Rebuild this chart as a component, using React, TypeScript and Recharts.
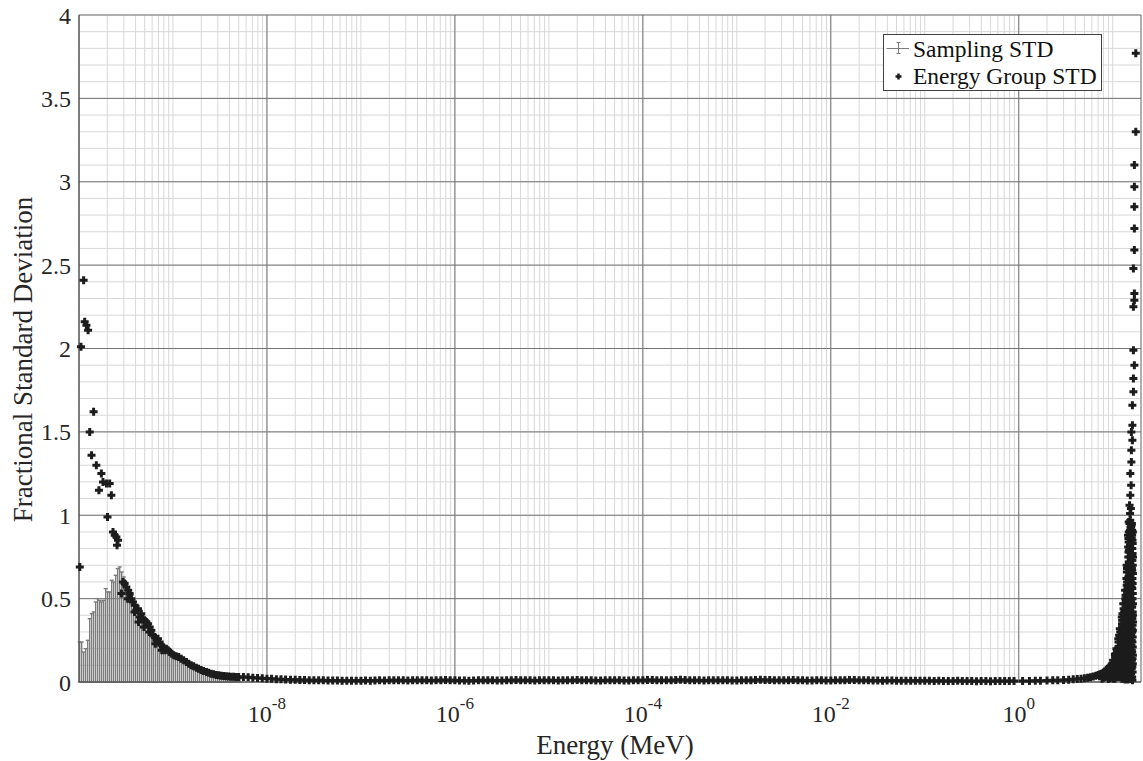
import { ScatterChart, Scatter, XAxis, YAxis, CartesianGrid, ErrorBar, Legend } from 'recharts';

const FONT = '"Liberation Serif", "Times New Roman", Times, serif';
const INK = '#262626';

// sampling std (error bars from zero) over the thermal groups, energies in MeV
const samplingEnergy = [
  1.017e-10, 1.068e-10, 1.122e-10, 1.178e-10, 1.238e-10, 1.3e-10, 1.365e-10, 1.433e-10, 1.505e-10, 1.581e-10,
  1.661e-10, 1.744e-10, 1.832e-10, 1.923e-10, 2.02e-10, 2.122e-10, 2.228e-10, 2.34e-10, 2.458e-10, 2.581e-10,
  2.71e-10, 2.847e-10, 2.989e-10, 3.139e-10, 3.297e-10, 3.462e-10, 3.636e-10, 3.819e-10, 4.01e-10, 4.212e-10,
  4.423e-10, 4.645e-10, 4.879e-10, 5.124e-10, 5.382e-10, 5.651e-10, 5.935e-10, 6.233e-10, 6.546e-10, 6.875e-10,
  7.22e-10, 7.582e-10, 7.963e-10, 8.362e-10, 8.783e-10, 9.224e-10, 9.687e-10, 1.017e-9, 1.068e-9, 1.122e-9,
  1.178e-9, 1.238e-9, 1.3e-9, 1.365e-9, 1.433e-9, 1.505e-9, 1.581e-9, 1.661e-9, 1.744e-9, 1.832e-9,
  1.923e-9, 2.02e-9, 2.122e-9, 2.228e-9, 2.34e-9, 2.458e-9, 2.581e-9, 2.71e-9, 2.847e-9, 2.989e-9,
  3.139e-9, 3.297e-9, 3.462e-9, 3.636e-9, 3.819e-9, 4.01e-9, 4.212e-9, 4.423e-9, 4.645e-9, 4.879e-9,
  5.124e-9,
];
const samplingStd = [
  0.24, 0.24, 0.18, 0.2, 0.25, 0.38, 0.41, 0.42, 0.48, 0.5,
  0.49, 0.48, 0.49, 0.56, 0.54, 0.54, 0.61, 0.6, 0.64, 0.68,
  0.69, 0.66, 0.63, 0.6, 0.57, 0.55, 0.52, 0.49, 0.46, 0.44,
  0.41, 0.39, 0.37, 0.36, 0.34, 0.32, 0.3, 0.28, 0.26, 0.25,
  0.24, 0.22, 0.21, 0.2, 0.19, 0.18, 0.17, 0.16, 0.15, 0.145,
  0.14, 0.13, 0.125, 0.12, 0.11, 0.105, 0.1, 0.095, 0.09, 0.085,
  0.08, 0.075, 0.07, 0.066, 0.062, 0.058, 0.054, 0.05, 0.047, 0.044,
  0.041, 0.038, 0.036, 0.034, 0.032, 0.03, 0.028, 0.026, 0.024, 0.022,
  0.02,
];

// energy-group std, thermal range
const thermalEnergy = [
  1.02e-10, 1.05e-10, 1.12e-10, 1.15e-10, 1.2e-10, 1.25e-10, 1.3e-10, 1.36e-10, 1.43e-10, 1.53e-10,
  1.63e-10, 1.73e-10, 1.8e-10, 1.96e-10, 2.01e-10, 2.12e-10, 2.21e-10, 2.3e-10, 2.4e-10, 2.5e-10,
  2.54e-10, 2.6e-10, 2.83e-10, 2.94e-10, 3.06e-10, 3.19e-10, 3.3e-10, 3.34e-10, 3.46e-10, 3.61e-10,
  3.75e-10, 3.9e-10, 3.91e-10, 4.07e-10, 4.24e-10, 4.3e-10, 4.42e-10, 4.6e-10, 4.79e-10, 4.9e-10,
  5.0e-10, 5.21e-10, 5.42e-10, 5.6e-10, 5.65e-10, 5.89e-10, 6.13e-10, 6.39e-10, 6.5e-10, 6.66e-10,
  6.93e-10, 7.22e-10, 7.52e-10, 7.6e-10, 7.83e-10, 8.16e-10, 8.5e-10, 8.85e-10, 9.22e-10, 9.69e-10,
  1.02e-9, 1.08e-9, 1.15e-9, 1.22e-9, 1.3e-9, 1.39e-9, 1.47e-9, 1.56e-9, 1.66e-9, 1.77e-9,
  1.87e-9, 1.99e-9, 2.11e-9, 2.27e-9, 2.4e-9, 2.55e-9, 2.71e-9, 2.89e-9, 3.07e-9, 3.26e-9,
  3.46e-9, 3.69e-9, 3.92e-9, 4.16e-9, 4.42e-9, 4.72e-9, 5.0e-9,
];
const thermalStd = [
  0.69, 2.01, 2.41, 2.16, 2.14, 2.11, 1.5, 1.36, 1.62, 1.3,
  1.15, 1.25, 1.2, 1.19, 0.99, 1.19, 1.12, 0.9, 0.88, 0.87,
  0.82, 0.85, 0.53, 0.6, 0.59, 0.57, 0.5, 0.55, 0.53, 0.5,
  0.48, 0.42, 0.46, 0.43, 0.44, 0.36, 0.39, 0.41, 0.38, 0.33,
  0.37, 0.36, 0.35, 0.3, 0.33, 0.31, 0.28, 0.27, 0.23, 0.25,
  0.26, 0.24, 0.22, 0.19, 0.21, 0.19, 0.2, 0.19, 0.18, 0.17,
  0.16, 0.155, 0.15, 0.14, 0.13, 0.12, 0.11, 0.1, 0.095, 0.085,
  0.08, 0.072, 0.066, 0.06, 0.055, 0.05, 0.046, 0.042, 0.04, 0.038,
  0.036, 0.034, 0.033, 0.032, 0.031, 0.03, 0.03,
];

// energy-group std, epithermal / intermediate range
const midEnergy = [
  5.62e-9, 6.31e-9, 7.08e-9, 7.94e-9, 8.91e-9,
  1e-8, 1.12e-8, 1.26e-8, 1.41e-8, 1.58e-8, 1.78e-8, 2e-8, 2.24e-8, 2.51e-8, 2.82e-8,
  3.16e-8, 3.55e-8, 3.98e-8, 4.47e-8, 5.01e-8, 5.62e-8, 6.31e-8, 7.08e-8, 7.94e-8, 8.91e-8,
  1e-7, 1.12e-7, 1.26e-7, 1.41e-7, 1.58e-7, 1.78e-7, 2e-7, 2.24e-7, 2.51e-7, 2.82e-7,
  3.16e-7, 3.55e-7, 3.98e-7, 4.47e-7, 5.01e-7, 5.62e-7, 6.31e-7, 7.08e-7, 7.94e-7, 8.91e-7,
  1e-6, 1.12e-6, 1.26e-6, 1.41e-6, 1.58e-6, 1.78e-6, 2e-6, 2.24e-6, 2.51e-6, 2.82e-6,
  3.16e-6, 3.55e-6, 3.98e-6, 4.47e-6, 5.01e-6, 5.62e-6, 6.31e-6, 7.08e-6, 7.94e-6, 8.91e-6,
  1e-5, 1.12e-5, 1.26e-5, 1.41e-5, 1.58e-5, 1.78e-5, 2e-5, 2.24e-5, 2.51e-5, 2.82e-5,
  3.16e-5, 3.55e-5, 3.98e-5, 4.47e-5, 5.01e-5, 5.62e-5, 6.31e-5, 7.08e-5, 7.94e-5, 8.91e-5,
  1e-4, 1.12e-4, 1.26e-4, 1.41e-4, 1.58e-4, 1.78e-4, 2e-4, 2.24e-4, 2.51e-4, 2.82e-4,
  3.16e-4, 3.55e-4, 3.98e-4, 4.47e-4, 5.01e-4, 5.62e-4, 6.31e-4, 7.08e-4, 7.94e-4, 8.91e-4,
  1e-3, 1.12e-3, 1.26e-3, 1.41e-3, 1.58e-3, 1.78e-3, 2e-3, 2.24e-3, 2.51e-3, 2.82e-3,
  3.16e-3, 3.55e-3, 3.98e-3, 4.47e-3, 5.01e-3, 5.62e-3, 6.31e-3, 7.08e-3, 7.94e-3, 8.91e-3,
  1e-2, 1.12e-2, 1.26e-2, 1.41e-2, 1.58e-2, 1.78e-2, 2e-2, 2.24e-2, 2.51e-2, 2.82e-2,
  3.16e-2, 3.55e-2, 3.98e-2, 4.47e-2, 5.01e-2, 5.62e-2, 6.31e-2, 7.08e-2, 7.94e-2, 8.91e-2,
  0.1, 0.112, 0.126, 0.141, 0.158, 0.178, 0.2, 0.224, 0.251, 0.282,
  0.316, 0.355, 0.398, 0.447, 0.501, 0.562, 0.631, 0.708, 0.794, 0.891,
];
const midStd = [
  0.03, 0.028, 0.026, 0.024, 0.022,
  0.02, 0.019, 0.017, 0.016, 0.015, 0.014, 0.013, 0.012, 0.012, 0.011,
  0.011, 0.01, 0.01, 0.009, 0.009, 0.009, 0.008, 0.008, 0.008, 0.008,
  0.008, 0.009, 0.008, 0.009, 0.01, 0.009, 0.01, 0.01, 0.011, 0.01,
  0.009, 0.01, 0.011, 0.01, 0.01, 0.009, 0.01, 0.011, 0.012, 0.011,
  0.01, 0.009, 0.009, 0.008, 0.009, 0.01, 0.01, 0.011, 0.01, 0.009,
  0.009, 0.01, 0.011, 0.012, 0.011, 0.01, 0.01, 0.009, 0.01, 0.011,
  0.01, 0.01, 0.009, 0.01, 0.011, 0.011, 0.012, 0.011, 0.01, 0.01,
  0.009, 0.009, 0.01, 0.01, 0.011, 0.01, 0.009, 0.009, 0.01, 0.01,
  0.011, 0.012, 0.012, 0.011, 0.01, 0.01, 0.011, 0.012, 0.013, 0.012,
  0.011, 0.01, 0.01, 0.009, 0.01, 0.011, 0.011, 0.01, 0.01, 0.009,
  0.009, 0.01, 0.01, 0.011, 0.012, 0.013, 0.012, 0.012, 0.011, 0.01,
  0.01, 0.011, 0.012, 0.011, 0.01, 0.009, 0.009, 0.01, 0.01, 0.009,
  0.009, 0.01, 0.011, 0.011, 0.012, 0.012, 0.011, 0.01, 0.01, 0.009,
  0.009, 0.008, 0.009, 0.009, 0.008, 0.008, 0.008, 0.007, 0.008, 0.007,
  0.007, 0.007, 0.006, 0.007, 0.006, 0.006, 0.006, 0.007, 0.006, 0.006,
  0.006, 0.005, 0.006, 0.006, 0.005, 0.006, 0.006, 0.006, 0.006, 0.006,
];

// energy-group std, fast range below 10 MeV
const fastEnergy = [
  1.1, 1.3, 1.5, 1.7, 2.0, 2.3, 2.6, 3.0, 3.4, 3.8,
  4.2, 4.6, 5.0, 5.4, 5.8, 6.2, 6.6, 7.0, 7.3, 7.6,
  7.7, 7.9, 8.0, 8.2, 8.3, 8.5, 8.6, 8.8, 8.9, 9.0,
  9.15, 9.25, 9.35, 9.5, 9.6, 9.7, 9.85, 9.95,
];
const fastStd = [
  0.006, 0.006, 0.007, 0.008, 0.009, 0.01, 0.011, 0.012, 0.014, 0.016,
  0.018, 0.02, 0.023, 0.026, 0.029, 0.033, 0.037, 0.042, 0.046, 0.05,
  0.02, 0.056, 0.025, 0.062, 0.03, 0.07, 0.035, 0.078, 0.04, 0.018,
  0.088, 0.05, 0.022, 0.098, 0.06, 0.03, 0.11, 0.075,
];

// energy-group std, fine groups between 10 and 16.5 MeV (one line per energy cluster)
const peakEnergy = [
  10.1, 10.13, 10.16, 10.19, 10.22,
  10.55, 10.56, 10.57, 10.58, 10.59, 10.6, 10.61, 10.62, 10.7,
  10.95, 10.98, 11.01, 11.04, 11.07, 11.1, 11.13, 11.16,
  11.45, 11.46, 11.47, 11.48, 11.49, 11.5, 11.51, 11.52, 11.53, 11.54, 11.55, 11.56, 11.7,
  11.9, 11.92, 11.94, 11.96, 11.98, 12.0, 12.02, 12.04, 12.06, 12.08, 12.1, 12.12, 12.14,
  12.5, 12.51, 12.52, 12.53, 12.54, 12.55, 12.56, 12.57, 12.58, 12.59,
  12.6, 12.61, 12.62, 12.63, 12.64, 12.65, 12.66, 12.7,
  12.95, 12.97, 12.99, 13.01, 13.03, 13.05, 13.07, 13.09, 13.11, 13.13,
  13.15, 13.17, 13.19, 13.21, 13.23, 13.25, 13.27, 13.29, 13.31,
  13.55, 13.56, 13.57, 13.58, 13.59, 13.6, 13.61, 13.62, 13.63, 13.64,
  13.65, 13.66, 13.67, 13.68, 13.69, 13.7, 13.71, 13.72, 13.73, 13.74, 13.75, 13.76,
  14.0, 14.01, 14.02, 14.03, 14.04, 14.05, 14.06, 14.07, 14.08, 14.09,
  14.1, 14.11, 14.12, 14.13, 14.14, 14.15, 14.16, 14.17, 14.18, 14.19,
  14.2, 14.21, 14.22, 14.23, 14.24, 14.25, 14.26, 14.27,
  14.55, 14.56, 14.57, 14.58, 14.59, 14.6, 14.61, 14.62, 14.63, 14.64,
  14.65, 14.66, 14.67, 14.68, 14.69, 14.7, 14.71, 14.72, 14.73, 14.74,
  14.75, 14.76, 14.77, 14.78, 14.79, 14.8, 14.81, 14.82, 14.83, 14.84,
  14.85, 14.86, 14.87, 14.88, 14.89, 14.9,
  15.1, 15.11, 15.12, 15.13, 15.14, 15.15, 15.16, 15.17, 15.18, 15.19,
  15.2, 15.21, 15.22, 15.23, 15.24, 15.25, 15.26, 15.27, 15.28, 15.29,
  15.3, 15.31, 15.32, 15.33, 15.34, 15.35, 15.36, 15.37, 15.38, 15.39,
  15.4, 15.41, 15.42, 15.43, 15.44, 15.45, 15.46, 15.47, 15.48,
  15.7, 15.71, 15.72, 15.73, 15.74, 15.75, 15.76, 15.77, 15.78, 15.79,
  15.8, 15.81, 15.82, 15.83, 15.84, 15.85, 15.86, 15.87, 15.88, 15.89,
  15.9, 15.91, 15.92, 15.93, 15.94, 15.95, 15.96, 15.97, 15.98, 15.99,
  16.0, 16.01, 16.02, 16.03, 16.04, 16.05,
  16.1, 16.11, 16.12, 16.13, 16.14, 16.15, 16.16, 16.17, 16.18, 16.19,
  16.2, 16.21, 16.22, 16.23, 16.24, 16.25, 16.26, 16.27, 16.28, 16.29,
  16.3, 16.31, 16.32, 16.33, 16.34, 16.35, 16.36, 16.37, 16.38, 16.39,
  16.4, 16.41, 16.42, 16.43, 16.44, 16.45,
];
const peakStd = [
  0.13, 0.02, 0.09, 0.05, 0.11,
  0.165, 0.02, 0.1, 0.13, 0.05, 0.08, 0.15, 0.035, 0.17,
  0.2, 0.03, 0.12, 0.17, 0.06, 0.145, 0.095, 0.185,
  0.26, 0.03, 0.14, 0.21, 0.07, 0.18, 0.11, 0.24, 0.05, 0.16, 0.09, 0.2, 0.28,
  0.32, 0.03, 0.16, 0.27, 0.07, 0.21, 0.3, 0.11, 0.24, 0.05, 0.185, 0.135, 0.09,
  0.39, 0.02, 0.2, 0.31, 0.08, 0.35, 0.14, 0.26, 0.05, 0.37,
  0.11, 0.23, 0.17, 0.29, 0.33, 0.1, 0.22, 0.41,
  0.47, 0.04, 0.25, 0.37, 0.11, 0.44, 0.2, 0.3, 0.07, 0.4,
  0.16, 0.34, 0.02, 0.23, 0.42, 0.13, 0.28, 0.09, 0.18,
  0.55, 0.015, 0.29, 0.43, 0.1, 0.5, 0.21, 0.36, 0.06, 0.47,
  0.17, 0.39, 0.26, 0.03, 0.52, 0.13, 0.32, 0.08, 0.41, 0.23, 0.45, 0.19,
  0.62, 0.03, 0.33, 0.51, 0.14, 0.42, 0.7, 0.08, 0.27, 0.58,
  0.19, 0.46, 0.36, 0.05, 0.66, 0.24, 0.55, 0.11, 0.39, 0.3,
  0.68, 0.16, 0.49, 0.21, 0.6, 0.44, 0.02, 0.53,
  0.88, 0.015, 0.46, 0.69, 0.2, 0.81, 0.32, 0.58, 0.1, 0.75,
  0.4, 0.04, 0.63, 0.26, 0.86, 0.52, 0.15, 0.78, 0.35, 0.07,
  0.6, 0.29, 0.84, 0.43, 0.22, 0.72, 0.12, 0.55, 0.37, 0.9,
  0.18, 0.66, 0.48, 0.24, 0.79, 0.34,
  0.95, 0.04, 0.5, 0.72, 0.21, 0.86, 0.33, 0.61, 0.12, 0.78,
  0.44, 0.02, 0.68, 0.27, 0.91, 0.55, 0.16, 0.82, 0.39, 0.07,
  0.64, 0.3, 0.88, 0.47, 0.24, 0.75, 0.1, 0.58, 0.36, 0.97,
  0.19, 0.7, 0.42, 0.84, 0.14, 0.53, 0.93, 0.66, 0.8,
  0.93, 0.05, 0.48, 0.7, 0.17, 0.83, 0.28, 0.6, 0.11, 0.77,
  0.41, 0.02, 0.65, 0.22, 0.89, 0.53, 0.14, 0.8, 0.36, 0.08,
  0.57, 0.25, 0.86, 0.45, 0.19, 0.73, 0.1, 0.5, 0.32, 0.95,
  0.13, 0.68, 0.39, 0.62, 0.76, 0.3,
  0.88, 0.03, 0.45, 0.67, 0.18, 0.8, 0.3, 0.56, 0.09, 0.73,
  0.38, 0.01, 0.62, 0.24, 0.85, 0.5, 0.14, 0.77, 0.34, 0.06,
  0.59, 0.27, 0.83, 0.42, 0.21, 0.7, 0.11, 0.53, 0.31, 0.9,
  0.16, 0.65, 0.4, 0.47, 0.75, 0.36,
];

// isolated large values near the top of the spectrum
const spikeEnergy = [
  14.8, 15.3, 15.6, 15.9, 16.1, 15.1, 15.4, 15.7, 15.4, 15.8,
  15.8, 16.2, 15.8, 16.2, 16.2, 16.6, 16.6, 17.0, 16.6, 16.6,
  17.0, 17.0, 16.6, 17.0, 17.0, 17.0, 17.0, 17.0, 17.6, 17.6,
];
const spikeStd = [
  0.96, 1.01, 1.04, 0.94, 0.91, 1.06, 1.12, 1.18, 1.25, 1.32,
  1.39, 1.45, 1.5, 1.54, 1.66, 1.74, 1.82, 1.9, 1.99, 2.25,
  2.29, 2.33, 2.48, 2.59, 2.72, 2.85, 2.97, 3.1, 3.3, 3.77,
];

const xTicks = [1e-8, 1e-6, 1e-4, 1e-2, 1];
const xTickExp = ['-8', '-6', '-4', '-2', '0'];
const yTicks = [0, 0.5, 1, 1.5, 2, 2.5, 3, 3.5, 4];
const decades = [-10, -9, -8, -7, -6, -5, -4, -3, -2, -1, 0, 1];
const mantissas = [1, 2, 3, 4, 5, 6, 7, 8, 9];

const X_DOMAIN: [number, number] = [1e-10, 20];
const Y_DOMAIN: [number, number] = [0, 4];
const xMinor = decades.flatMap((d) => mantissas.map((m) => m * 10 ** d)).filter((v) => v <= X_DOMAIN[1]);
const yMinor = Array.from({ length: 41 }, (_, i) => i / 10);

const zip = (es: number[], vs: number[]) => es.map((e, i) => ({ e, v: vs[i] }));
const groupRows = [
  ...zip(thermalEnergy, thermalStd),
  ...zip(midEnergy, midStd),
  ...zip(fastEnergy, fastStd),
  ...zip(peakEnergy, peakStd),
  ...zip(spikeEnergy, spikeStd),
].filter((r) => r.v !== undefined);
const samplingRows = samplingEnergy.map((e, i) => ({ e, base: 0, err: [0, samplingStd[i]] }));

const Empty = () => <g />;

const PlusMarker = (props: any) => {
  const { cx, cy } = props;
  if (cx == null || cy == null) return <g />;
  return (
    <path
      d={`M${cx - 4},${cy}H${cx + 4}M${cx},${cy - 4}V${cy + 4}`}
      stroke="#1c1c1c"
      strokeWidth={3}
      fill="none"
    />
  );
};

const EnergyTick = ({ x, y, payload }: any) => {
  const i = xTicks.indexOf(payload.value);
  return (
    <text x={x} y={y + 31.5} textAnchor="middle" fontFamily={FONT} fontSize={24} fill={INK}>
      10
      <tspan dy={-13} fontSize={17}>
        {xTickExp[i]}
      </tspan>
    </text>
  );
};

const XTitle = ({ viewBox }: any) => (
  <text
    x={viewBox.x + viewBox.width / 2 + 5}
    y={viewBox.y + 72}
    textAnchor="middle"
    fontFamily={FONT}
    fontSize={27}
    fill={INK}
  >
    Energy (MeV)
  </text>
);

const YTitle = ({ viewBox }: any) => (
  <text
    transform={`translate(31.5, ${viewBox.y + viewBox.height / 2 + 11}) rotate(-90)`}
    textAnchor="middle"
    fontFamily={FONT}
    fontSize={27}
    fill={INK}
  >
    Fractional Standard Deviation
  </text>
);

const LegendBox = () => (
  <svg width={220} height={57} style={{ display: 'block' }}>
    <rect x={0.5} y={0.5} width={218} height={56} fill="#fff" stroke="#404040" />
    <path d="M3.5,14.5H26M15.5,8.5V19.5M13.5,8.5H17.5M13.5,19.5H17.5" stroke="#7a7a7a" fill="none" />
    <path d="M12.5,42.5H18.5M15.5,39.5V45.5" stroke="#1c1c1c" strokeWidth={2.5} fill="none" />
    <text x={30} y={22.5} fontFamily={FONT} fontSize={23.5} fill="#111">
      Sampling STD
    </text>
    <text x={30} y={49.5} fontFamily={FONT} fontSize={23.5} fill="#111">
      Energy Group STD
    </text>
  </svg>
);

export default function App() {
  return (
    <div style={{ position: 'absolute', left: 0, top: 0, background: '#fff' }}>
      <ScatterChart width={1143} height={761} margin={{ top: 15, right: 2, bottom: 0, left: 0 }}>
        <XAxis
          xAxisId="x"
          dataKey="e"
          type="number"
          scale="log"
          domain={X_DOMAIN}
          ticks={xTicks}
          interval={0}
          height={79}
          tickLine={false}
          axisLine={{ stroke: '#4a4a4a' }}
          tick={<EnergyTick />}
          label={<XTitle />}
        />
        {/* minor log grid + inward ticks along the top edge */}
        <XAxis
          xAxisId="xm"
          dataKey="e"
          orientation="top"
          mirror
          height={0}
          type="number"
          scale="log"
          domain={X_DOMAIN}
          ticks={xMinor}
          interval={0}
          tick={Empty}
          tickSize={5}
          tickLine={{ stroke: '#8a8a8a' }}
          axisLine={{ stroke: '#4a4a4a' }}
        />
        <YAxis
          yAxisId="y"
          type="number"
          domain={Y_DOMAIN}
          ticks={yTicks}
          interval={0}
          width={79}
          tickLine={false}
          axisLine={{ stroke: '#4a4a4a' }}
          tick={{ fontFamily: FONT, fontSize: 24, fill: INK }}
          label={<YTitle />}
        />
        <YAxis
          yAxisId="ym"
          orientation="right"
          mirror
          width={0}
          type="number"
          domain={Y_DOMAIN}
          ticks={yMinor}
          interval={0}
          tick={Empty}
          tickLine={false}
          axisLine={{ stroke: '#4a4a4a' }}
        />
        <CartesianGrid xAxisId="xm" yAxisId="ym" stroke="#d8d8d8" />
        <CartesianGrid xAxisId="x" yAxisId="y" stroke="#747474" />
        {/* binds the minor axes to the data range; draws nothing */}
        <Scatter
          xAxisId="xm"
          yAxisId="ym"
          data={samplingRows}
          dataKey="base"
          shape={Empty}
          legendType="none"
          isAnimationActive={false}
        />
        <Scatter
          name="Sampling STD"
          xAxisId="x"
          yAxisId="y"
          data={samplingRows}
          dataKey="base"
          shape={Empty}
          isAnimationActive={false}
        >
          <ErrorBar dataKey="err" direction="y" width={2} stroke="#7c7c7c" strokeWidth={1.4} />
        </Scatter>
        <Scatter
          name="Energy Group STD"
          xAxisId="x"
          yAxisId="y"
          data={groupRows}
          dataKey="v"
          shape={PlusMarker}
          isAnimationActive={false}
        />
        <Legend
          layout="vertical"
          align="center"
          verticalAlign="middle"
          wrapperStyle={{ left: 883, top: 34 }}
          content={<LegendBox />}
        />
      </ScatterChart>
    </div>
  );
}
